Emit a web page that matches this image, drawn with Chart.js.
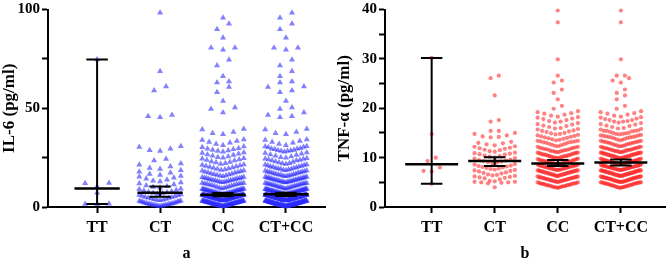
<!DOCTYPE html>
<html>
<head>
<meta charset="utf-8">
<script src="https://cdn.jsdelivr.net/npm/chart.js@4"></script>
<style>
  body { margin: 0; background: #fff; }
  .panel { position: absolute; top: 0; }
</style>
</head>
<body>
<div class="panel" style="left:0px"><canvas id="chartA" width="335" height="259"></canvas></div>
<div class="panel" style="left:335px"><canvas id="chartB" width="334" height="259"></canvas></div>
<script>
const groups = ["TT", "CT", "CC", "CT+CC"];

// ---- panel a : IL-6 (pg/ml) ----
const ttIL6 = [74.7, 12.2, 12.0, 10.3, 7.2, 1.6, 1.5, 1.4];
const ctIL6 = [
  0.4, 0.5, 0.6, 0.7, 0.8, 0.9, 1.0, 1.1, 1.2, 1.3, 1.4, 1.5, 1.6, 1.7, 1.8, 1.9,
  2.0, 2.2, 2.3, 2.5, 2.6, 2.8, 2.9, 3.1, 3.2, 3.4, 3.5, 3.7, 3.9, 4.1, 4.3, 4.5, 4.7, 4.9,
  5.1, 5.4, 5.6, 5.9, 6.1, 6.3, 6.6, 6.8, 7.1, 7.3, 7.6, 7.9,
  8.2, 8.6, 9.0, 9.3, 9.7, 10.1, 10.5, 10.9,
  11.4, 11.9, 12.4, 12.9, 13.3, 13.8,
  14.3, 14.8, 15.3, 15.7, 16.2, 16.7,
  17.3, 17.9, 18.6, 19.2, 19.8,
  20.5, 21.4, 22.0, 23.6, 24.3,
  28.4, 28.7, 29.5, 30.4, 30.8,
  45.4, 46.0, 46.6, 59.0, 61.0, 68.7, 98.3
];
const ccIL6 = [
  0.3, 0.4, 0.4, 0.5, 0.5, 0.6, 0.6, 0.6, 0.7, 0.7, 0.8, 0.8, 0.8, 0.9, 0.9, 1.0, 1.0, 1.0,
  1.1, 1.1, 1.2, 1.2, 1.2, 1.3, 1.3, 1.4, 1.4, 1.5, 1.5, 1.5, 1.6, 1.6, 1.7, 1.7, 1.8, 1.8, 1.8,
  1.9, 1.9, 2.0, 2.0, 2.1, 2.1, 2.1, 2.2, 2.2, 2.3, 2.3, 2.4, 2.4, 2.4, 2.5, 2.5, 2.6, 2.6,
  2.7, 2.7, 2.7, 2.8, 2.8, 2.9, 2.9, 3.0, 3.0, 3.0, 3.1, 3.1, 3.2, 3.2, 3.2,
  3.3, 3.3, 3.4, 3.4, 3.4, 3.5, 3.5, 3.5, 3.6, 3.6, 3.6, 3.7, 3.7, 3.7, 3.8, 3.8, 3.9, 3.9, 3.9,
  4.0, 4.0, 4.0, 4.1, 4.1, 4.1, 4.2, 4.2, 4.3, 4.3, 4.3, 4.4, 4.4, 4.4, 4.5, 4.5, 4.6, 4.6, 4.6,
  4.7, 4.7, 4.7, 4.8, 4.8, 4.9, 4.9, 4.9, 5.0, 5.0, 5.0, 5.1, 5.1, 5.2, 5.2, 5.2, 5.3, 5.3, 5.3,
  5.4, 5.4, 5.5, 5.5, 5.5, 5.6, 5.6, 5.6, 5.7, 5.7, 5.8, 5.8, 5.8, 5.9, 5.9, 5.9, 6.0, 6.0,
  6.1, 6.1, 6.1, 6.2, 6.2, 6.2, 6.2,
  6.3, 6.4, 6.4, 6.5, 6.6, 6.6, 6.7, 6.8, 6.9, 6.9, 7.0, 7.1, 7.2, 7.2, 7.3, 7.4, 7.5, 7.5, 7.6, 7.7,
  7.8, 7.9, 7.9, 8.0, 8.1, 8.2, 8.2, 8.3, 8.4, 8.5, 8.5, 8.6, 8.7, 8.8, 8.8, 8.9, 9.0, 9.1, 9.1, 9.2,
  9.4, 9.6, 9.8, 10.0, 10.1, 10.4, 10.6, 10.8, 11.0, 11.1, 11.3,
  11.5, 11.6, 11.8, 11.9, 12.0, 12.1, 12.2,
  12.5, 12.6, 12.8, 12.9, 13.1, 13.2, 13.4, 13.5, 13.7, 13.8, 13.9, 14.1, 14.2, 14.4, 14.5, 14.6,
  14.8, 14.9, 15.1, 15.2,
  15.6, 15.8, 16.0, 16.2, 16.4, 16.6, 16.8, 17.0, 17.3, 17.5, 17.7, 17.9, 18.1, 18.3, 18.5,
  18.7, 19.0, 19.2, 19.5, 19.8, 20.0, 20.3, 20.5, 20.8, 21.0, 21.3, 21.5,
  21.8, 22.1, 22.5, 22.8, 23.1, 23.5, 23.8, 24.1, 24.4, 24.7,
  24.9, 25.2, 25.6, 25.9, 26.3, 26.6, 26.9, 27.3, 27.6,
  28.0, 28.3, 28.6, 28.9, 29.2, 29.5, 29.8, 30.2, 30.6,
  31.3, 31.9, 32.5, 32.9, 33.4, 33.9, 34.2,
  36.8, 37.4, 38.0, 39.3, 39.5,
  47.8, 49.6,
  50.4, 53.7, 58.1, 60.8, 63.1, 63.6, 66.2, 71.7, 74.6, 79.6, 80.6, 80.6, 85.7, 90.0, 92.8, 95.8
];
const il6Median = [9.4, 7.2, 6.2, 6.4];
const il6Low = [1.5, 5.2, 5.4, 5.6];
const il6High = [74.7, 10.4, 7.1, 7.2];
const il6Ticks = [0, 25, 50, 75, 100];
const il6TickLabels = ["0", "", "50", "", "100"];

// ---- panel b : TNF-α (pg/ml) ----
const ttTNF = [30.2, 14.8, 10.0, 9.3, 8.0, 7.3, 7.2, 4.7];
const ctTNF = [
  4.0,
  4.8, 4.9, 5.0, 5.0, 5.1, 5.1, 5.2, 5.3,
  5.6, 5.8, 5.9, 6.0, 6.1, 6.2, 6.3, 6.4, 6.5, 6.6,
  6.8, 6.9, 7.0, 7.2, 7.3, 7.4, 7.5, 7.6, 7.7, 7.8,
  7.9, 8.0, 8.1, 8.2, 8.3, 8.4, 8.6, 8.7, 8.8, 9.0,
  9.1, 9.2, 9.3, 9.4, 9.5, 9.6, 9.8, 9.9, 10.0, 10.2,
  10.3, 10.4, 10.6, 10.7, 10.8, 10.9, 11.0, 11.2, 11.3,
  11.5, 11.6, 11.8, 11.9, 12.0, 12.2, 12.3, 12.5, 12.7,
  12.9, 13.0, 13.2,
  14.1, 14.2, 14.3, 14.5, 14.8, 15.0, 15.4, 15.4,
  17.3, 17.6, 22.6, 26.1, 26.6
];
const ccTNF = [
  3.9, 3.9, 4.0, 4.0, 4.0, 4.1, 4.1, 4.2, 4.2, 4.2, 4.3, 4.3, 4.4, 4.4, 4.4, 4.5, 4.5, 4.5,
  4.6, 4.6, 4.7, 4.7, 4.7, 4.8, 4.8, 4.8, 4.9, 4.9, 5.0, 5.0,
  5.1, 5.1, 5.1, 5.2, 5.2, 5.2, 5.3, 5.3, 5.3, 5.4, 5.4, 5.4, 5.5, 5.5, 5.5, 5.6, 5.6, 5.6,
  5.7, 5.7, 5.7, 5.8, 5.8, 5.8, 5.9, 5.9, 5.9, 6.0, 6.0, 6.0, 6.1, 6.1, 6.1, 6.2, 6.2,
  6.3, 6.3, 6.3, 6.4, 6.4, 6.5, 6.5, 6.5, 6.6, 6.6, 6.6, 6.7, 6.7, 6.7, 6.8, 6.8, 6.8, 6.9,
  6.9, 6.9, 7.0, 7.0, 7.0, 7.1, 7.1, 7.1, 7.2, 7.2, 7.2, 7.3, 7.3, 7.3, 7.4, 7.4, 7.4, 7.4,
  7.5, 7.5, 7.5, 7.6, 7.6, 7.6, 7.7, 7.7, 7.7, 7.8, 7.8, 7.8, 7.9, 7.9, 7.9, 8.0, 8.0, 8.0,
  8.1, 8.1, 8.1, 8.2, 8.2, 8.2, 8.3, 8.3, 8.3, 8.4, 8.4, 8.4, 8.5, 8.5, 8.6, 8.6,
  8.7, 8.7, 8.7, 8.8, 8.8, 8.8, 8.9, 8.9, 8.9, 9.0, 9.0, 9.0, 9.1, 9.1, 9.1, 9.2, 9.2, 9.2,
  9.3, 9.3, 9.4, 9.4, 9.4, 9.5, 9.5, 9.6, 9.6, 9.7, 9.7, 9.8,
  9.9, 9.9, 10.0, 10.0, 10.0, 10.1, 10.1, 10.2, 10.2, 10.3, 10.3, 10.3, 10.4, 10.4, 10.5, 10.5,
  10.6, 10.6, 10.6, 10.7, 10.7, 10.8, 10.8, 10.9, 10.9, 11.0, 11.0, 11.0,
  11.1, 11.1, 11.2, 11.3, 11.3, 11.4, 11.4, 11.5, 11.6, 11.6, 11.7, 11.7, 11.8,
  11.9, 11.9, 12.0, 12.0, 12.1, 12.2, 12.2,
  12.3, 12.4, 12.5, 12.6, 12.7, 12.8, 12.9, 13.0, 13.1, 13.1, 13.2, 13.3, 13.3, 13.4, 13.4,
  13.5, 13.6, 13.7, 13.8, 13.9, 14.0, 14.1, 14.2, 14.3, 14.4, 14.5, 14.6,
  14.7, 14.8, 14.9, 15.0, 15.2, 15.3, 15.4, 15.5, 15.7, 15.8,
  15.9, 16.0, 16.2, 16.4, 16.5, 16.7, 16.8, 17.0,
  17.1, 17.3, 17.4, 17.6, 17.8, 17.9, 18.1, 18.2,
  18.3, 18.5, 18.7, 18.9, 19.0, 19.2, 19.4,
  19.9, 20.5, 21.8, 23.1, 23.8, 25.2, 25.6, 26.6, 29.9, 37.4, 39.8
];
const tnfMedian = [8.65, 9.3, 8.8, 9.0];
const tnfLow = [4.7, 8.3, 8.3, 8.4];
const tnfHigh = [30.2, 10.1, 9.5, 9.6];
const tnfTicks = [0, 5, 10, 15, 20, 25, 30, 35, 40];
const tnfTickLabels = ["0", "", "10", "", "20", "", "30", "", "40"];

const serif = "'Liberation Serif', 'Times New Roman', serif";

// prism-like scatter: sort, cut into rows, spread each row from the centre out
function swarm(values, center, rowH, dx, maxHalf) {
  const v = values.slice().sort((a, b) => a - b);
  const pts = [];
  let i = 0;
  while (i < v.length) {
    let j = i;
    while (j < v.length && v[j] - v[i] < rowH) j++;
    const row = v.slice(i, j);
    const n = row.length;
    let step = dx;
    if (n > 1 && ((n - 1) * step) / 2 > maxHalf) step = (2 * maxHalf) / (n - 1);
    const slots = [];
    for (let k = 0; k < n; k++) slots.push((k - (n - 1) / 2) * step);
    slots.sort((a, b) => Math.abs(a) - Math.abs(b) || a - b);
    row.forEach((y, k) => pts.push({ x: center + slots[k], y: y }));
    i = j;
  }
  return pts;
}

function makeChart(id, o) {
  const medLine = [];
  const ciLine = [];
  groups.forEach((g, i) => {
    medLine.push({ x: i - o.medHalf, y: o.median[i] }, { x: i + o.medHalf, y: o.median[i] }, { x: i, y: null });
    ciLine.push(
      { x: i - 0.17, y: o.high[i] }, { x: i + 0.17, y: o.high[i] }, { x: i, y: null },
      { x: i, y: o.high[i] }, { x: i, y: o.low[i] }, { x: i, y: null },
      { x: i - 0.17, y: o.low[i] }, { x: i + 0.17, y: o.low[i] }, { x: i, y: null }
    );
  });

  const datasets = [
    { type: "line", data: medLine, borderColor: "#000", borderWidth: 2.5, pointRadius: 0, spanGaps: false, order: 0, clip: false },
    { type: "line", data: ciLine, borderColor: "#000", borderWidth: 2, pointRadius: 0, spanGaps: false, order: 0, clip: false },
  ];
  o.series.forEach((vals, i) => {
    datasets.push({
      data: swarm(vals, i, o.rowH, o.dx, o.maxHalf),
      pointStyle: o.marker,
      pointRadius: o.radius,
      backgroundColor: o.color,
      borderWidth: 0,
      clip: false,
      order: 1,
    });
  });

  return new Chart(document.getElementById(id), {
    type: "scatter",
    data: { datasets: datasets },
    options: {
      responsive: false,
      animation: false,
      events: [],
      layout: { padding: o.padding },
      plugins: { legend: { display: false }, tooltip: { enabled: false } },
      scales: {
        x: {
          type: "linear",
          min: o.xMin,
          max: o.xMax,
          afterBuildTicks: (s) => { s.ticks = groups.map((g, i) => ({ value: i })); },
          afterFit: (s) => { s.height = 52; },
          ticks: {
            callback: (v) => groups[v],
            color: "#000",
            padding: 5,
            maxRotation: 0,
            autoSkip: false,
            font: { family: serif, size: 16, weight: "bold" },
          },
          grid: { drawOnChartArea: false, drawTicks: true, tickLength: 6, tickWidth: 2, tickColor: "#000" },
          border: { display: true, color: "#000", width: 2 },
          title: {
            display: true,
            text: o.letter,
            color: "#000",
            padding: { top: 0, bottom: -3 },
            font: { family: serif, size: 16, weight: "bold", lineHeight: 1 },
          },
        },
        y: {
          min: 0,
          max: o.yMax,
          afterBuildTicks: (s) => { s.ticks = o.ticks.map((v) => ({ value: v })); },
          afterFit: (s) => { s.width = o.yWidth; },
          ticks: {
            callback: (v, i) => o.tickLabels[i],
            color: "#000",
            padding: 2,
            font: { family: serif, size: 15, weight: "bold", lineHeight: 1 },
          },
          grid: { drawOnChartArea: false, drawTicks: true, tickLength: 6, tickWidth: 2, tickColor: "#000" },
          border: { display: true, color: "#000", width: 2 },
          title: {
            display: true,
            text: o.yTitle,
            color: "#000",
            padding: { top: 1, bottom: 0 },
            font: { family: serif, size: 17, weight: "bold", lineHeight: 1 },
          },
        },
      },
    },
  });
}

makeChart("chartA", {
  series: [ttIL6, ctIL6, ccIL6, ctIL6.concat(ccIL6)],
  median: il6Median, low: il6Low, high: il6High,
  ticks: il6Ticks, tickLabels: il6TickLabels,
  yMax: 100, yTitle: "IL-6 (pg/ml)", letter: "a",
  xMin: -0.78, xMax: 3.62, yWidth: 48,
  padding: { top: 9, right: 10, left: 0, bottom: 0 },
  marker: "triangle", radius: 3.5, color: "rgba(45, 45, 255, 0.6)",
  rowH: 3.0, dx: 0.19, maxHalf: 0.33, medHalf: 0.36,
});

makeChart("chartB", {
  series: [ttTNF, ctTNF, ccTNF, ctTNF.concat(ccTNF)],
  median: tnfMedian, low: tnfLow, high: tnfHigh,
  ticks: tnfTicks, tickLabels: tnfTickLabels,
  yMax: 40, yTitle: "TNF-α (pg/ml)", letter: "b",
  xMin: -0.74, xMax: 3.7, yWidth: 50,
  padding: { top: 5, right: 1, left: 0, bottom: 0 },
  marker: "circle", radius: 2.1, color: "rgba(255, 45, 45, 0.6)",
  rowH: 1.15, dx: 0.13, maxHalf: 0.32, medHalf: 0.42,
});
</script>
</body>
</html>
